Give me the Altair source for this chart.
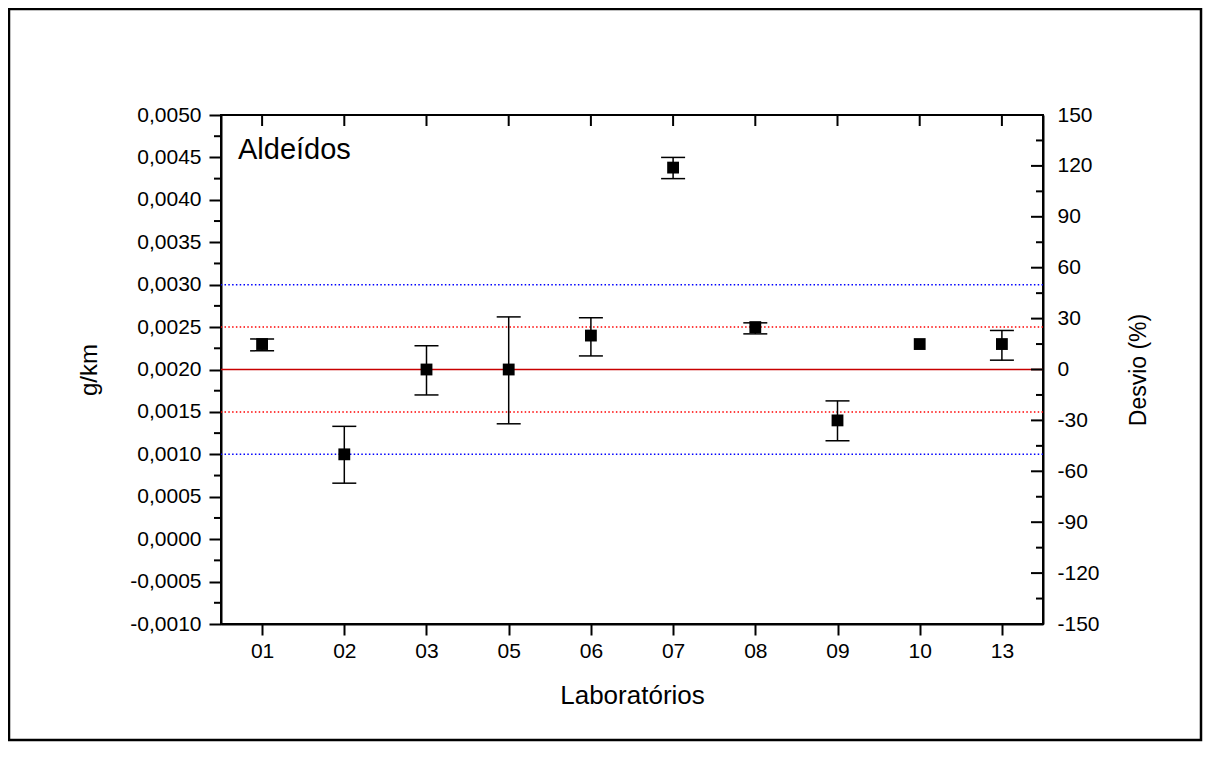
import altair as alt
import pandas as pd

# ---------------- data ----------------
labs = ["01", "02", "03", "05", "06", "07", "08", "09", "10", "13"]
vals = [0.0023, 0.0010, 0.0020, 0.0020, 0.0024, 0.00438, 0.0025, 0.0014, 0.0023, 0.0023]
err_lo = [0.00222, 0.00066, 0.00170, 0.00136, 0.00216, 0.00425, 0.00242, 0.00116, None, 0.00211]
err_hi = [0.00236, 0.00133, 0.00228, 0.00262, 0.00261, 0.00450, 0.00255, 0.00163, None, 0.00246]

left_major = [-0.001, -0.0005, 0.0, 0.0005, 0.001, 0.0015, 0.002, 0.0025,
              0.003, 0.0035, 0.004, 0.0045, 0.005]
left_minor = [-0.00075, -0.00025, 0.00025, 0.00075, 0.00125, 0.00175, 0.00225,
              0.00275, 0.00325, 0.00375, 0.00425, 0.00475]
right_major = [-150, -120, -90, -60, -30, 0, 30, 60, 90, 120, 150]
right_minor = [-135, -105, -75, -45, -15, 15, 45, 75, 105, 135]

blue_lines = [0.003, 0.001]
red_dotted = [0.0025, 0.0015]
center_line = [0.002]

panel_label = ["Aldeídos"]

FONT = "Liberation Sans"
W, H = 822, 509

xsc = alt.Scale(type="point", domain=labs, padding=0.5)
ysc = alt.Scale(domain=[-0.001, 0.005], nice=False, zero=False)
rsc = alt.Scale(domain=[-150, 150], nice=False, zero=False)

xaxis = alt.Axis(
    orient="bottom", tickSize=11, labelPadding=5, labelAngle=0,
    labelFontSize=21, title="Laboratórios", titleFontSize=26,
    titleX=W / 2, titleY=79, titleBaseline="alphabetic", titleAlign="center",
)
yaxis = alt.Axis(
    orient="left", values=left_major, tickSize=12, labelPadding=8,
    labelFontSize=21,
    labelExpr="(datum.value < 0 ? '-' : '') + replace(format(abs(datum.value), '.4f'), '.', ',')",
    title="g/km", titleFontSize=24, titleAngle=270,
    titleX=-125, titleY=H / 2, titleBaseline="alphabetic", titleAlign="center",
)
raxis = alt.Axis(
    orient="right", values=right_major, tickSize=0, labelPadding=14,
    labelFontSize=21,
    labelExpr="(datum.value < 0 ? '-' : '') + format(abs(datum.value), 'd')",
    title="Desvio (%)", titleFontSize=23, titleAngle=270,
    titleX=102, titleY=H / 2, titleBaseline="alphabetic", titleAlign="center",
)


def X(field):
    return alt.X(field, type="nominal", scale=xsc, sort=labs, axis=xaxis)


def Y(field):
    return alt.Y(field, type="quantitative", scale=ysc, axis=yaxis)


def R(field):
    return alt.Y(field, type="quantitative", scale=rsc, axis=raxis)


df = pd.DataFrame({"lab": labs, "v": vals, "lo": err_lo, "hi": err_hi})
df_err = df.dropna()

one = pd.DataFrame({"k": [0]})

# ---------------- left group ----------------
frame = alt.Chart(one).mark_rect(fillOpacity=0, stroke="black", strokeWidth=2.5).encode(
    x=alt.value(-212), x2=alt.value(980), y=alt.value(-106), y2=alt.value(625)
)

blue = alt.Chart(pd.DataFrame({"v": blue_lines})).mark_rule(
    color="#0000ff", strokeWidth=1.5, strokeDash=[1.5, 2.3]
).encode(y=Y("v"))

redd = alt.Chart(pd.DataFrame({"v": red_dotted})).mark_rule(
    color="#ff0000", strokeWidth=1.5, strokeDash=[1.5, 2.3]
).encode(y=Y("v"))

center = alt.Chart(pd.DataFrame({"v": center_line})).mark_rule(
    color="#c80000", strokeWidth=1.4
).encode(y=Y("v"))

err = alt.Chart(df_err).mark_rule(color="black", strokeWidth=1.5).encode(
    x=X("lab"), y=Y("lo"), y2="hi:Q",
)

caps_lo = alt.Chart(df_err).mark_tick(
    color="black", size=24, thickness=1.5, opacity=1, orient="horizontal"
).encode(x=X("lab"), y=Y("lo"))
caps_hi = alt.Chart(df_err).mark_tick(
    color="black", size=24, thickness=1.5, opacity=1, orient="horizontal"
).encode(x=X("lab"), y=Y("hi"))

points = alt.Chart(df).mark_square(size=140, color="black", opacity=1).encode(
    x=X("lab"), y=Y("v"),
)

top_ticks = alt.Chart(pd.DataFrame({"lab": labs})).mark_rule(color="black", strokeWidth=2).encode(
    x=X("lab"), y=alt.value(0), y2=alt.value(11),
)

left_minor_ticks = alt.Chart(pd.DataFrame({"v": left_minor})).mark_rule(
    color="black", strokeWidth=2
).encode(y=Y("v"), x=alt.value(-7), x2=alt.value(0))

label = alt.Chart(pd.DataFrame({"t": panel_label})).mark_text(
    align="left", baseline="alphabetic", fontSize=29, font=FONT, color="black"
).encode(text="t:N", x=alt.value(17), y=alt.value(44))

left = alt.layer(frame, blue, redd, center, err, caps_lo, caps_hi, points,
                 top_ticks, left_minor_ticks, label)

# ---------------- right group ----------------
right_major_ticks = alt.Chart(pd.DataFrame({"p": right_major})).mark_rule(
    color="black", strokeWidth=2
).encode(y=R("p"), x=alt.value(W - 12), x2=alt.value(W))

right_minor_ticks = alt.Chart(pd.DataFrame({"p": right_minor})).mark_rule(
    color="black", strokeWidth=2
).encode(y=R("p"), x=alt.value(W - 7), x2=alt.value(W))

right = alt.layer(right_major_ticks, right_minor_ticks)

chart = (
    alt.layer(left, right)
    .resolve_scale(y="independent")
    .properties(
        width=W, height=H,
        autosize=alt.AutoSizeParams(type="none"),
        padding={"left": 213, "top": 107, "right": 160, "bottom": 119},
        background="white",
    )
    .configure_view(stroke="black", strokeWidth=2)
    .configure_axis(
        grid=False, domainColor="black", domainWidth=2, tickColor="black",
        tickWidth=2, labelColor="black", titleColor="black",
        labelFont=FONT, titleFont=FONT, titleFontWeight="normal",
    )
)

chart.save("out.html", embed_options={"renderer": "svg", "actions": False})
